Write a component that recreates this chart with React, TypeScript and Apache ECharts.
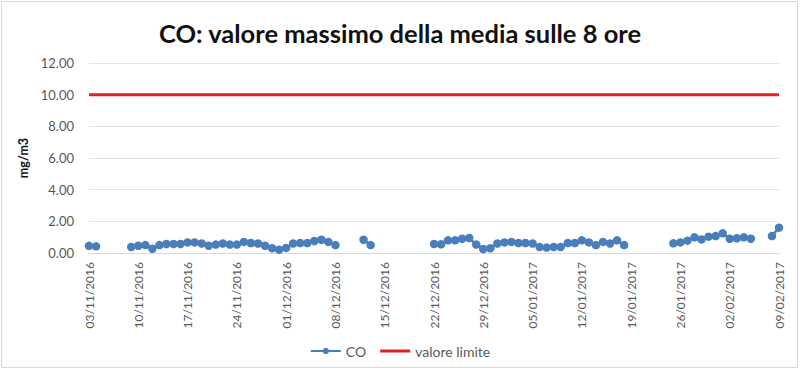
import React, { useEffect, useRef } from "react";
import * as echarts from "echarts";

const dates: string[] = [
  "03/11/2016","04/11/2016","05/11/2016","06/11/2016","07/11/2016","08/11/2016","09/11/2016","10/11/2016","11/11/2016","12/11/2016",
  "13/11/2016","14/11/2016","15/11/2016","16/11/2016","17/11/2016","18/11/2016","19/11/2016","20/11/2016","21/11/2016","22/11/2016",
  "23/11/2016","24/11/2016","25/11/2016","26/11/2016","27/11/2016","28/11/2016","29/11/2016","30/11/2016",
  "01/12/2016","02/12/2016","03/12/2016","04/12/2016","05/12/2016","06/12/2016","07/12/2016","08/12/2016","09/12/2016","10/12/2016",
  "11/12/2016","12/12/2016","13/12/2016","14/12/2016","15/12/2016","16/12/2016","17/12/2016","18/12/2016","19/12/2016","20/12/2016",
  "21/12/2016","22/12/2016","23/12/2016","24/12/2016","25/12/2016","26/12/2016","27/12/2016","28/12/2016","29/12/2016","30/12/2016","31/12/2016",
  "01/01/2017","02/01/2017","03/01/2017","04/01/2017","05/01/2017","06/01/2017","07/01/2017","08/01/2017","09/01/2017","10/01/2017",
  "11/01/2017","12/01/2017","13/01/2017","14/01/2017","15/01/2017","16/01/2017","17/01/2017","18/01/2017","19/01/2017","20/01/2017",
  "21/01/2017","22/01/2017","23/01/2017","24/01/2017","25/01/2017","26/01/2017","27/01/2017","28/01/2017","29/01/2017","30/01/2017","31/01/2017",
  "01/02/2017","02/02/2017","03/02/2017","04/02/2017","05/02/2017","06/02/2017","07/02/2017","08/02/2017","09/02/2017",
];

// CO: 8-hour average maximum (mg/m3); null = missing day
const coNov1 = [0.45, 0.42];
const gapA = [null, null, null, null];
const coNovDec = [
  0.38, 0.46, 0.5, 0.27, 0.5, 0.57, 0.57, 0.57, 0.67, 0.67,
  0.6, 0.46, 0.53, 0.6, 0.53, 0.53, 0.7, 0.63, 0.6, 0.46,
  0.3, 0.21, 0.32, 0.6, 0.63, 0.63, 0.76, 0.84, 0.7, 0.5,
];
const gapB = [null, null, null];
const coDec2 = [0.84, 0.5];
const gapC = [null, null, null, null, null, null, null, null];
const coDecJan = [
  0.57, 0.55, 0.8, 0.8, 0.9, 0.95, 0.53, 0.25, 0.3, 0.6,
  0.67, 0.7, 0.63, 0.63, 0.6, 0.38, 0.34, 0.38, 0.38, 0.63,
  0.63, 0.8, 0.67, 0.5, 0.7, 0.6, 0.8, 0.5,
];
const gapD = [null, null, null, null, null, null];
const coJanFeb = [0.61, 0.67, 0.78, 0.99, 0.86, 1.03, 1.07, 1.24, 0.9, 0.93, 0.99, 0.9];
const gapE = [null, null];
const coFeb = [1.07, 1.6];

const coValues: (number | null)[] = [
  ...coNov1, ...gapA, ...coNovDec, ...gapB, ...coDec2, ...gapC,
  ...coDecJan, ...gapD, ...coJanFeb, ...gapE, ...coFeb,
];

const limitValue = 10;
const yTicks = { min: 0, max: 12, interval: 2 };

const FONT = "Lato, 'Open Sans', sans-serif";
const BLUE = "#4a7ebb";
const RED = "#e02020";

export default function App() {
  const ref = useRef<HTMLDivElement>(null);
  useEffect(() => {
    if (!ref.current) return;
    const chart = echarts.init(ref.current, undefined, { renderer: "svg" });
    chart.setOption({
      animation: false,
      backgroundColor: "#ffffff",
      textStyle: { fontFamily: FONT },
      title: {
        text: "CO: valore massimo della media sulle 8 ore",
        left: "center",
        top: 15,
        textStyle: { fontFamily: FONT, fontWeight: "bold", fontSize: 25.5, color: "#111111" },
      },
      graphic: [
        {
          type: "rect",
          shape: { x: 1.5, y: 1.5, width: 796, height: 366 },
          style: { fill: "none", stroke: "#d9d9d9", lineWidth: 1 },
          silent: true,
        },
      ],
      legend: {
        bottom: 12,
        left: "center",
        itemGap: 14,
        itemWidth: 30,
        itemHeight: 8,
        textStyle: { fontFamily: FONT, fontSize: 14, color: "#595959" },
        data: [
          { name: "CO" },
          { name: "valore limite", icon: "path://M0,0 L30,0 L30,3 L0,3 Z", itemStyle: { color: RED } },
        ],
      },
      grid: { left: 89, right: 21, top: 63, height: 190 },
      xAxis: {
        type: "category",
        data: dates,
        boundaryGap: false,
        axisLine: { show: true, lineStyle: { color: "#d9d9d9" } },
        axisTick: { show: false },
        axisLabel: {
          interval: 6,
          rotate: 90,
          margin: 9,
          fontFamily: FONT,
          fontSize: 12,
          color: "#595959",
        },
      },
      yAxis: {
        type: "value",
        min: yTicks.min,
        max: yTicks.max,
        interval: yTicks.interval,
        name: "mg/m3",
        nameLocation: "middle",
        nameRotate: 90,
        nameGap: 49,
        nameTextStyle: { fontFamily: FONT, fontWeight: "bold", fontSize: 12.5, color: "#111111" },
        axisLine: { show: false },
        axisTick: { show: false },
        splitLine: { lineStyle: { color: "#e3e3e3" } },
        axisLabel: {
          margin: 15,
          fontFamily: FONT,
          fontSize: 13,
          color: "#595959",
          formatter: (v: number) => v.toFixed(2),
        },
      },
      series: [
        {
          name: "CO",
          type: "line",
          data: coValues,
          connectNulls: false,
          symbol: "circle",
          symbolSize: 8.5,
          showSymbol: true,
          showAllSymbol: true,
          itemStyle: { color: BLUE },
          lineStyle: { color: BLUE, width: 2.5 },
          z: 3,
        },
        {
          name: "valore limite",
          type: "line",
          data: [
            [dates[0], limitValue],
            [dates[dates.length - 1], limitValue],
          ],
          symbol: "none",
          itemStyle: { color: RED },
          lineStyle: { color: RED, width: 3 },
          z: 2,
        },
      ],
    });
    return () => chart.dispose();
  }, []);
  return (
    <div
      ref={ref}
      style={{ position: "absolute", left: 0, top: 0, width: 800, height: 375 }}
    />
  );
}
